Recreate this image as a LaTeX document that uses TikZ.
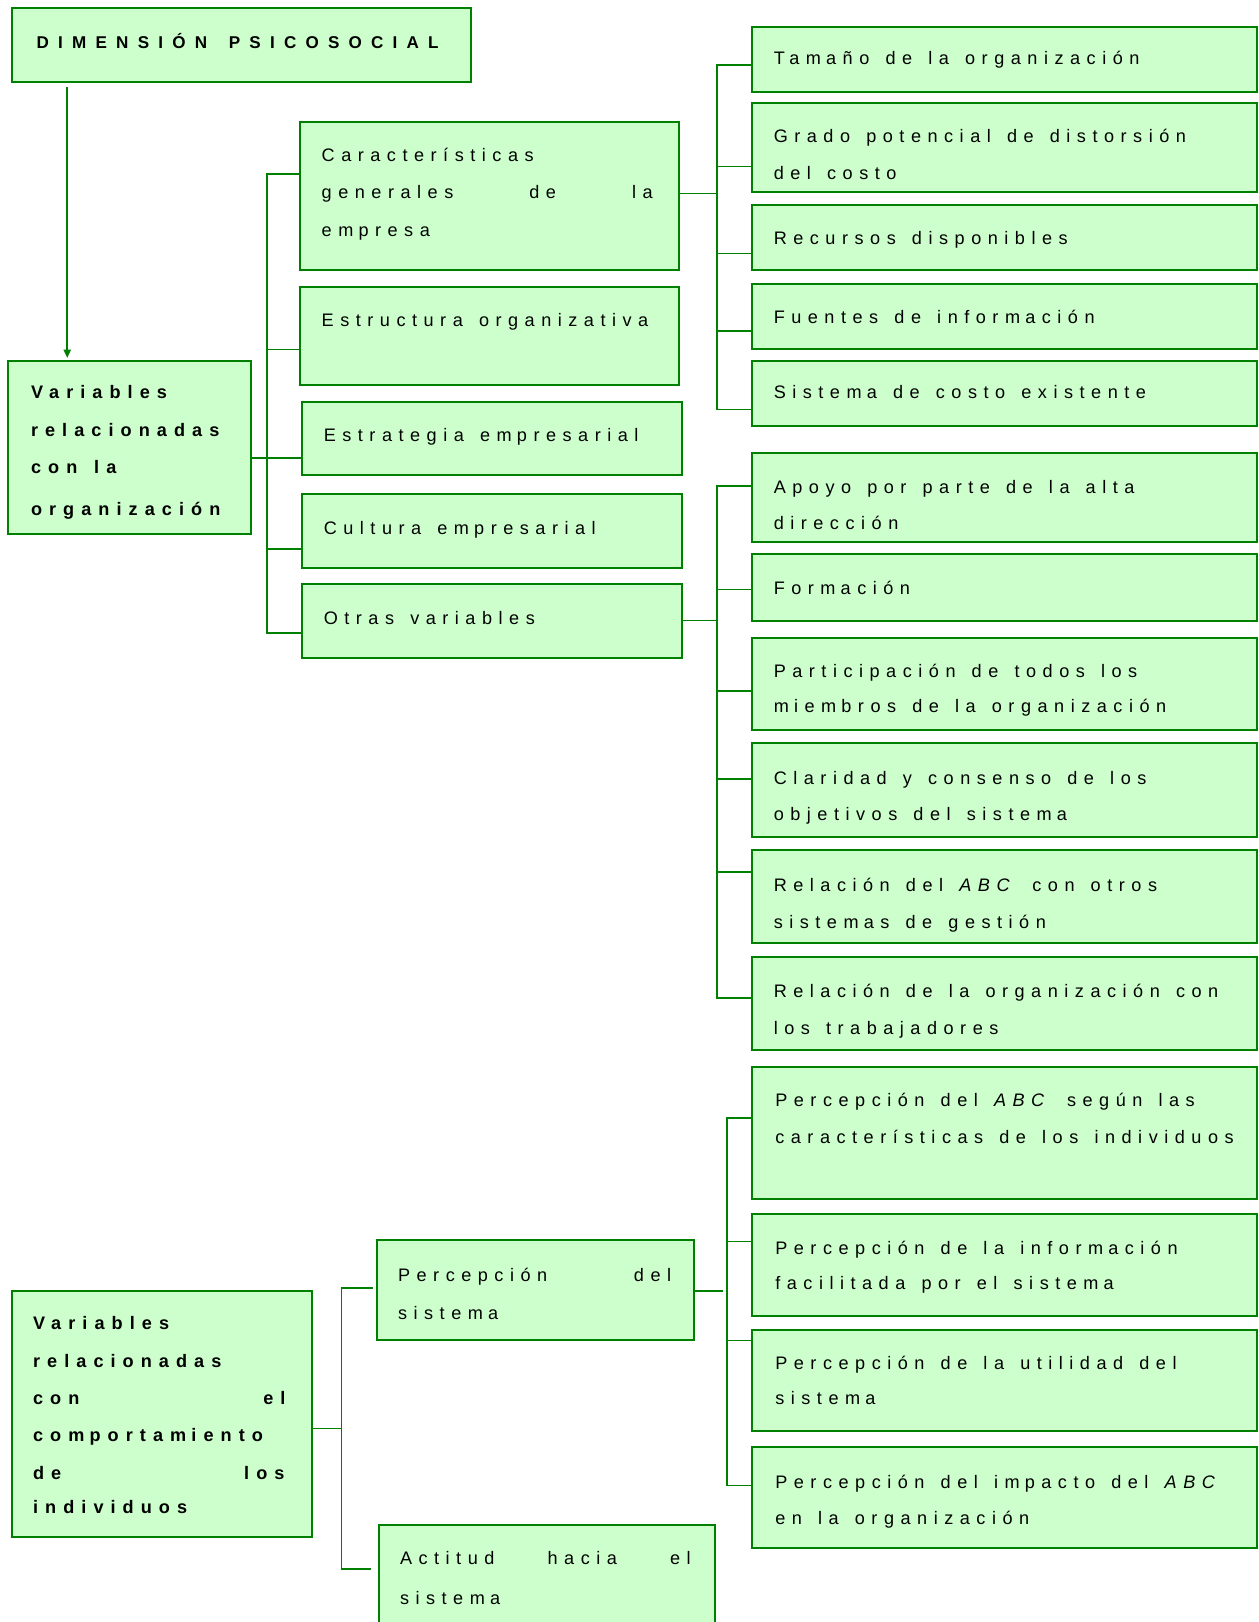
\documentclass[tikz,border=0pt]{standalone}
\usepackage{fontspec}
\setmainfont{Liberation Sans}[LetterSpace=36, WordSpace=1.4, BoldFeatures={LetterSpace=39}]
\newfontfamily\headfont{Liberation Sans}[LetterSpace=54]
\usetikzlibrary{arrows.meta}
\definecolor{boxfill}{RGB}{204,255,204}
\definecolor{boxline}{RGB}{0,128,0}
\newcommand\txtfont{\fontsize{17.5}{21}\selectfont}
% extra gap that the typesetting leaves after the letter m
\newcommand\mg{\kern5pt}
% box from its top-left (x1,y1) to bottom-right (x2,y2) corner
\newcommand\mkbox[5]{\node[box, minimum width={(#4-#2)*1pt}, minimum height={(#5-#3)*1pt}] (#1) at (#2,#3) {};}

\begin{document}
\begin{tikzpicture}[x=1pt, y=-1pt,
  box/.style={draw=boxline, fill=boxfill, line width=1.9pt, rectangle,
              inner sep=0pt, outer sep=0pt, anchor=north west},
  conn/.style={draw=boxline, line width=1.6pt, line join=miter},
  lbl/.style={anchor=base west, inner sep=0pt, outer sep=0pt, font=\txtfont},
  hd/.style={lbl, font=\txtfont\bfseries},
  title/.style={lbl, font=\headfont\bfseries\fontsize{16.5}{20}\selectfont}]

\path[use as bounding box] (0,0) rectangle (1217,1568);
\clip (0,0) rectangle (1217,1568);

% ---------- boxes ----------
\mkbox{dim}{12}{8}{455}{79}
\mkbox{vorg}{8}{349}{243}{516}
\mkbox{car}{290}{118}{656}{261}
\mkbox{est}{290}{277}{656}{372}
\mkbox{estr}{292}{389}{659}{459}
\mkbox{cul}{292}{478}{659}{549}
\mkbox{otr}{292}{565}{659}{636}
\mkbox{tam}{727}{26}{1215}{89}
\mkbox{gra}{727}{100}{1215}{186}
\mkbox{rec}{727}{198}{1215}{261}
\mkbox{fue}{727}{275}{1215}{337}
\mkbox{sis}{727}{349}{1215}{412}
\mkbox{apo}{727}{438}{1215}{524}
\mkbox{form}{727}{536}{1215}{600}
\mkbox{par}{727}{617}{1215}{706}
\mkbox{cla}{727}{718}{1215}{809}
\mkbox{rab}{727}{822}{1215}{912}
\mkbox{rot}{727}{925}{1215}{1015}
\mkbox{pabc}{727}{1031}{1215}{1159}
\mkbox{pinf}{727}{1174}{1215}{1272}
\mkbox{puti}{727}{1286}{1215}{1383}
\mkbox{pimp}{727}{1399}{1215}{1496}
\mkbox{vind}{12}{1248}{302}{1486}
\mkbox{psis}{364}{1199}{671}{1295}
\mkbox{act}{366}{1474}{691}{1600}

% ---------- texts ----------
\node[title] (dimT) at (35.5,46.7) {DIMENSIÓN\hspace{21pt}PSICOSOCIAL};

\node[hd] (vorgT1) at (30,385) {Variables};
\node[hd] (vorgT2) at (30,421.5) {relacionadas};
\node[hd] (vorgT3) at (30,457.5) {con la};
\node[hd] (vorgT4) at (30,498.8) {organización};

\node[lbl] (carT1) at (311,156) {Características};
\node[lbl] (carT2) at (311,192) {\hbox to 320pt{generales\hfill de\hfill la}};
\node[lbl] (carT3) at (311,228.5) {em\mg presa};
\node[lbl] (estT) at (311,315.8) {Estructura organizativa};
\node[lbl] (estrT) at (313,427) {Estrategia em\mg presarial};
\node[lbl] (culT) at (313,516.5) {Cultura em\mg presarial};
\node[lbl] (otrT) at (313,604) {Otras variables};

\node[lbl] (tamT) at (748,62.8) {Tam\mg año de la organización};
\node[lbl] (graT1) at (748,138) {Grado potencial de distorsión};
\node[lbl] (graT2) at (748,173.3) {del costo};
\node[lbl] (recT) at (748,236.8) {Recursos disponibles};
\node[lbl] (fueT) at (748,312.6) {Fuentes de inform\mg ación};
\node[lbl] (sisT) at (748,385) {Sistem\mg a de costo existente};

\node[lbl] (apoT1) at (748,477) {Apoyo por parte de la alta};
\node[lbl] (apoT2) at (748,512) {dirección};
\node[lbl] (formT) at (748,575) {Form\mg ación};
\node[lbl] (parT1) at (748,654.5) {Participación de todos los};
\node[lbl] (parT2) at (748,688.5) {m\mg iem\mg bros de la organización};
\node[lbl] (claT1) at (748,758) {Claridad y consenso de los};
\node[lbl] (claT2) at (748,793) {objetivos del sistem\mg a};
\node[lbl] (rabT1) at (748,861.4) {Relación del \textit{ABC} con otros};
\node[lbl] (rabT2) at (748,897.3) {sistem\mg as de gestión};
\node[lbl] (rotT1) at (748,964) {Relación de la organización con};
\node[lbl] (rotT2) at (748,1000) {los trabajadores};

\node[lbl] (pabcT1) at (749.5,1070) {Percepción del \textit{ABC} según las};
\node[lbl] (pabcT2) at (749.5,1105) {características de los individuos};
\node[lbl] (pinfT1) at (749.5,1213) {Percepción de la inform\mg ación};
\node[lbl] (pinfT2) at (749.5,1247) {facilitada por el sistem\mg a};
\node[lbl] (putiT1) at (749.5,1324.3) {Percepción de la utilidad del};
\node[lbl] (putiT2) at (749.5,1358) {sistem\mg a};
\node[lbl] (pimpT1) at (749.5,1438.7) {Percepción del im\mg pacto del \textit{ABC}};
\node[lbl] (pimpT2) at (749.5,1474) {en la organización};

\node[hd] (vindT1) at (32,1285.4) {Variables};
\node[hd] (vindT2) at (32,1321.7) {relacionadas};
\node[hd] (vindT3) at (32,1358) {\hbox to 244pt{con\hfill el}};
\node[hd] (vindT4) at (32,1393.7) {com\mg portam\mg iento};
\node[hd] (vindT5) at (32,1430) {\hbox to 243pt{de\hfill los}};
\node[hd] (vindT6) at (32,1463.5) {individuos};

\node[lbl] (psisT1) at (384.8,1238.6) {\hbox to 264pt{Percepción\hfill del}};
\node[lbl] (psisT2) at (384.8,1276) {sistem\mg a};
\node[lbl] (actT1) at (386.7,1512) {\hbox to 281pt{Actitud\hfill hacia\hfill el}};
\node[lbl] (actT2) at (386.7,1551) {sistem\mg a};

% ---------- connectors ----------
\coordinate (a0) at (65,84);
\draw[conn, -{Triangle[length=8pt,width=7pt]}, shorten >=3pt] (a0) -- (a0 |- vorg.north);

% organisation variables
\coordinate (o1) at (258,168);
\coordinate (o2) at (258,338);
\coordinate (o3) at (258,443);
\coordinate (o4) at (258,531);
\coordinate (o5) at (258,612);
\draw[conn] (o1 -| car.west) -- (o1) -- (o5) -- (o5 -| otr.west);
\draw[conn] (o2) -- (o2 -| est.west);
\draw[conn] (o3 -| vorg.east) -- (o3 -| estr.west);
\draw[conn] (o4) -- (o4 -| cul.west);

% general characteristics
\coordinate (c0) at (693,187);
\coordinate (c1) at (693,63);
\coordinate (c2) at (693,161);
\coordinate (c3) at (693,245);
\coordinate (c4) at (693,320);
\coordinate (c5) at (693,396);
\draw[conn] (c0 -| car.east) -- (c0);
\draw[conn] (c1 -| tam.west) -- (c1) -- (c5) -- (c5 -| sis.west);
\draw[conn] (c2) -- (c2 -| gra.west);
\draw[conn] (c3) -- (c3 -| rec.west);
\draw[conn] (c4) -- (c4 -| fue.west);

% other variables
\coordinate (m0) at (693,600);
\coordinate (m1) at (693,470);
\coordinate (m2) at (693,570);
\coordinate (m3) at (693,668);
\coordinate (m4) at (693,753);
\coordinate (m5) at (693,843);
\coordinate (m6) at (693,965);
\draw[conn] (m0 -| otr.east) -- (m0);
\draw[conn] (m1 -| apo.west) -- (m1) -- (m6) -- (m6 -| rot.west);
\draw[conn] (m2) -- (m2 -| form.west);
\draw[conn] (m3) -- (m3 -| par.west);
\draw[conn] (m4) -- (m4 -| cla.west);
\draw[conn] (m5) -- (m5 -| rab.west);

% individual behaviour
\coordinate (b0) at (330,1381);
\coordinate (b1) at (330,1245);
\coordinate (b2) at (330,1517);
\draw[conn] (b0 -| vind.east) -- (b0);
\draw[conn] (b1) -- (b2);
\draw[conn, shorten >=3.5pt] (b1) -- (b1 -| psis.west);
\draw[conn, shorten >=7pt] (b2) -- (b2 -| act.west);

% perception of the system
\coordinate (p0) at (703,1248);
\coordinate (p1) at (703,1081);
\coordinate (p2) at (703,1200);
\coordinate (p3) at (703,1296);
\coordinate (p4) at (703,1436);
\draw[conn, shorten >=4pt] (p0 -| psis.east) -- (p0);
\draw[conn] (p1 -| pabc.west) -- (p1) -- (p4) -- (p4 -| pimp.west);
\draw[conn] (p2) -- (p2 -| pinf.west);
\draw[conn] (p3) -- (p3 -| puti.west);
\end{tikzpicture}
\end{document}
